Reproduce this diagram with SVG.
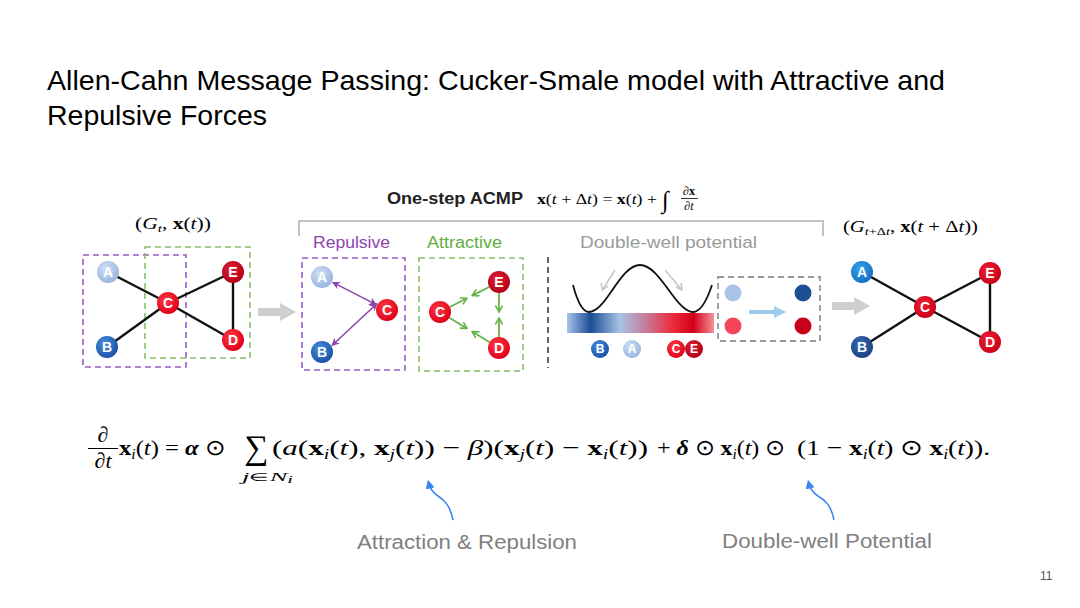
<svg xmlns="http://www.w3.org/2000/svg" width="1080" height="608" viewBox="0 0 1080 608">
<defs>
<style>
.ttl{font-family:"Liberation Sans",Arial,sans-serif;font-size:28px;fill:#000}
.nl{font-family:"Liberation Sans",Arial,sans-serif;font-weight:bold;fill:#fff;text-anchor:middle;dominant-baseline:central}
.m{font-family:"Liberation Serif","Times New Roman",serif;fill:#000}
.b{font-weight:bold}
.i{font-style:italic}
.bi{font-weight:bold;font-style:italic}
.edge{stroke:#111;stroke-width:2.4;fill:none}
.rep{stroke:#8e44ad;stroke-width:1.6;fill:none;marker-start:url(#mp);marker-end:url(#mp)}
.att{stroke:#66b345;stroke-width:1.8;fill:none;marker-end:url(#mg)}
.lbl{font-family:"Liberation Sans",Arial,sans-serif;font-size:20px;fill:#7f7f7f}
.cap{font-family:"Liberation Sans",Arial,sans-serif;font-size:16px}
</style>
<radialGradient id="gA" cx="40%" cy="35%" r="65%"><stop offset="0" stop-color="#d3e1f4"/><stop offset="1" stop-color="#98b5e0"/></radialGradient>
<radialGradient id="gB" cx="40%" cy="35%" r="65%"><stop offset="0" stop-color="#4a8fe0"/><stop offset="1" stop-color="#1b52a6"/></radialGradient>
<radialGradient id="gC" cx="40%" cy="35%" r="65%"><stop offset="0" stop-color="#ff3a44"/><stop offset="1" stop-color="#e0001a"/></radialGradient>
<radialGradient id="gE" cx="40%" cy="35%" r="65%"><stop offset="0" stop-color="#dc2030"/><stop offset="1" stop-color="#b50018"/></radialGradient>
<radialGradient id="gA2" cx="40%" cy="35%" r="65%"><stop offset="0" stop-color="#39a0e8"/><stop offset="1" stop-color="#1372c4"/></radialGradient>
<radialGradient id="gB2" cx="40%" cy="35%" r="65%"><stop offset="0" stop-color="#3768b0"/><stop offset="1" stop-color="#1b4485"/></radialGradient>
<radialGradient id="gR2" cx="40%" cy="35%" r="65%"><stop offset="0" stop-color="#ec2030"/><stop offset="1" stop-color="#cc0018"/></radialGradient>
<linearGradient id="bar" x1="0" y1="0" x2="1" y2="0">
<stop offset="0" stop-color="#a8c4ea"/>
<stop offset="0.16" stop-color="#1b4d94"/>
<stop offset="0.36" stop-color="#a9c3e6"/>
<stop offset="0.54" stop-color="#c77a98"/>
<stop offset="0.72" stop-color="#ec2a3c"/>
<stop offset="0.86" stop-color="#d3001a"/>
<stop offset="1" stop-color="#f59298"/>
</linearGradient>
<marker id="mp" viewBox="0 0 10 10" refX="9" refY="5" markerWidth="8" markerHeight="8" markerUnits="userSpaceOnUse" orient="auto-start-reverse"><path d="M0,0 L10,5 L0,10 L3,5 Z" fill="#8e44ad"/></marker>
<marker id="mg" viewBox="0 0 10 10" refX="9" refY="5" markerWidth="8" markerHeight="8" markerUnits="userSpaceOnUse" orient="auto"><path d="M1,0.5 L9,5 L1,9.5" fill="none" stroke="#66b345" stroke-width="2"/></marker>
<marker id="mblue" viewBox="0 0 10 10" refX="5" refY="5" markerWidth="9" markerHeight="9" markerUnits="userSpaceOnUse" orient="auto"><path d="M0,0 L10,5 L0,10 Z" fill="#3d86f0"/></marker>
</defs>
<rect width="1080" height="608" fill="#fff"/>

<g id="title">
<text class="ttl" x="47" y="90" textLength="898" lengthAdjust="spacingAndGlyphs">Allen-Cahn Message Passing: Cucker-Smale model with Attractive and</text>
<text class="ttl" x="47" y="125" textLength="220" lengthAdjust="spacingAndGlyphs">Repulsive Forces</text>
</g>

<g id="header">
<text class="cap" x="387" y="204" font-weight="bold" fill="#222" textLength="136" lengthAdjust="spacingAndGlyphs">One-step ACMP</text>
<text class="m" x="537" y="204" font-size="14" textLength="120" lengthAdjust="spacingAndGlyphs"><tspan class="b">x</tspan>(<tspan class="i">t</tspan> + Δ<tspan class="i">t</tspan>) = <tspan class="b">x</tspan>(<tspan class="i">t</tspan>) +</text>
<text class="m i" x="662" y="208" font-size="24">∫</text>
<text class="m" x="689" y="195" font-size="12" text-anchor="middle">∂<tspan class="b">x</tspan></text>
<line x1="681" y1="198.5" x2="698" y2="198.5" stroke="#000" stroke-width="0.8"/>
<text class="m" x="689" y="210" font-size="12" text-anchor="middle">∂<tspan class="i">t</tspan></text>
<path d="M299,236 L299,221 L823,221 L823,236" fill="none" stroke="#c4c4c4" stroke-width="2"/>
<text class="m" x="135" y="229" font-size="16" textLength="76" lengthAdjust="spacingAndGlyphs">(<tspan class="i">G</tspan><tspan class="i" font-size="11" dy="3">t</tspan><tspan dy="-3">, </tspan><tspan class="b">x</tspan>(<tspan class="i">t</tspan>))</text>
<text class="m" x="843" y="232" font-size="16" textLength="135" lengthAdjust="spacingAndGlyphs">(<tspan class="i">G</tspan><tspan font-size="11" dy="3"><tspan class="i">t</tspan>+Δ<tspan class="i">t</tspan></tspan><tspan dy="-3">, </tspan><tspan class="b">x</tspan>(<tspan class="i">t</tspan> + Δ<tspan class="i">t</tspan>))</text>
<text class="cap" x="313" y="248" fill="#8e44ad" textLength="77" lengthAdjust="spacingAndGlyphs">Repulsive</text>
<text class="cap" x="427" y="248" fill="#5fae3e" textLength="75" lengthAdjust="spacingAndGlyphs">Attractive</text>
<text class="cap" x="580" y="248" fill="#9a9a9a" font-size="17" textLength="177" lengthAdjust="spacingAndGlyphs">Double-well potential</text>
</g>

<g id="boxes" fill="none" stroke-width="1.6" stroke-dasharray="6,4">
<rect x="83" y="255" width="103" height="112" stroke="#9b59c6"/>
<rect x="145" y="247" width="105" height="111" stroke="#86c06a"/>
<rect x="302" y="258" width="103" height="112" stroke="#9b59c6"/>
<rect x="419" y="258" width="104" height="113" stroke="#86c06a"/>
<line x1="548" y1="257" x2="548" y2="368" stroke="#666" stroke-width="2"/>
<rect x="718" y="277" width="102" height="64" stroke="#999" stroke-width="1.8"/>
</g>

<g id="arrows-big">
<polygon points="258,308 280,308 280,303 296,312 280,321 280,316 258,316" fill="#cfcfcf"/>
<polygon points="832,302 854,302 854,297 870,306 854,315 854,310 832,310" fill="#cfcfcf"/>
<polygon points="749,310 774,310 774,306 786,312 774,318 774,314 749,314" fill="#9ccbee"/>
</g>

<g id="potential">
<rect x="567" y="313" width="147" height="20" fill="url(#bar)"/>
<path d="M573,285 C578,304 583,312 589,312 C606,312 620,265 640,265 C660,265 676,312 693,312 C701,312 707,300 712,285" fill="none" stroke="#111" stroke-width="1.8"/>
<line x1="615" y1="270" x2="603" y2="289" stroke="#c4c4c4" stroke-width="1.5"/>
<path d="M601,283 L602.5,290 L608,286" fill="none" stroke="#c4c4c4" stroke-width="1.5"/>
<line x1="665" y1="270" x2="681" y2="289" stroke="#c4c4c4" stroke-width="1.5"/>
<path d="M676,287 L682,290 L681,283" fill="none" stroke="#c4c4c4" stroke-width="1.5"/>
<circle cx="733" cy="293" r="8.5" fill="#aac4e8"/>
<circle cx="733" cy="326" r="8.5" fill="#f4455a"/>
<circle cx="803" cy="293" r="8.5" fill="#1e4f95"/>
<circle cx="803" cy="326" r="8.5" fill="#c8001a"/>
</g>

<g id="connectors">
<line class="edge" x1="108" y1="272" x2="168" y2="303"/>
<line class="edge" x1="107" y1="347" x2="168" y2="303"/>
<line class="edge" x1="168" y1="303" x2="233" y2="272"/>
<line class="edge" x1="168" y1="303" x2="233" y2="340"/>
<line class="edge" x1="233" y1="272" x2="233" y2="340"/>
<line class="rep" x1="332.7" y1="282.4" x2="376.3" y2="304.6"/>
<line class="rep" x1="332" y1="345.5" x2="377" y2="303.5"/>
<line class="att" x1="449.8" y1="307" x2="467" y2="298.3"/>
<line class="att" x1="489.2" y1="287" x2="472.2" y2="295.6"/>
<line class="att" x1="499" y1="293" x2="499" y2="312"/>
<line class="att" x1="499" y1="337" x2="499" y2="318"/>
<line class="att" x1="449.4" y1="317.7" x2="467" y2="328.4"/>
<line class="att" x1="489.6" y1="342.3" x2="472.1" y2="331.6"/>
<line class="edge" x1="862" y1="272" x2="925" y2="307"/>
<line class="edge" x1="862" y1="347" x2="925" y2="307"/>
<line class="edge" x1="925" y1="307" x2="990" y2="273"/>
<line class="edge" x1="925" y1="307" x2="990" y2="342"/>
<line class="edge" x1="990" y1="273" x2="990" y2="342"/>
<path d="M453,520 C450,505 444,500 438,496 C432,492 430,488 429,484" fill="none" stroke="#3d86f0" stroke-width="1.6" marker-end="url(#mblue)"/>
<path d="M834,520 C831,505 825,500 818,496 C812,492 810,488 809,484" fill="none" stroke="#3d86f0" stroke-width="1.6" marker-end="url(#mblue)"/>
</g>

<g id="g1-A"><circle cx="108" cy="272" r="11" fill="url(#gA)"/><text class="nl" x="108" y="272" font-size="14">A</text></g>
<g id="g1-B"><circle cx="107" cy="347" r="11" fill="url(#gB)"/><text class="nl" x="107" y="347" font-size="14">B</text></g>
<g id="g1-C"><circle cx="168" cy="303" r="11" fill="url(#gC)"/><text class="nl" x="168" y="303" font-size="14">C</text></g>
<g id="g1-E"><circle cx="233" cy="272" r="11" fill="url(#gE)"/><text class="nl" x="233" y="272" font-size="14">E</text></g>
<g id="g1-D"><circle cx="233" cy="340" r="11" fill="url(#gC)"/><text class="nl" x="233" y="340" font-size="14">D</text></g>

<g id="rep-A"><circle cx="322" cy="277" r="11" fill="url(#gA)"/><text class="nl" x="322" y="277" font-size="14">A</text></g>
<g id="rep-C"><circle cx="387" cy="310" r="11" fill="url(#gC)"/><text class="nl" x="387" y="310" font-size="14">C</text></g>
<g id="rep-B"><circle cx="322" cy="352" r="11" fill="url(#gB)"/><text class="nl" x="322" y="352" font-size="14">B</text></g>

<g id="att-C"><circle cx="440" cy="312" r="11" fill="url(#gC)"/><text class="nl" x="440" y="312" font-size="14">C</text></g>
<g id="att-E"><circle cx="499" cy="282" r="11" fill="url(#gE)"/><text class="nl" x="499" y="282" font-size="14">E</text></g>
<g id="att-D"><circle cx="499" cy="348" r="11" fill="url(#gC)"/><text class="nl" x="499" y="348" font-size="14">D</text></g>

<g id="dw-B"><circle cx="600" cy="349" r="9" fill="url(#gB)"/><text class="nl" x="600" y="349" font-size="12">B</text></g>
<g id="dw-A"><circle cx="632" cy="349" r="9" fill="url(#gA)"/><text class="nl" x="632" y="349" font-size="12">A</text></g>
<g id="dw-C"><circle cx="676" cy="349" r="9" fill="url(#gC)"/><text class="nl" x="676" y="349" font-size="12">C</text></g>
<g id="dw-E"><circle cx="694" cy="349" r="9" fill="url(#gE)"/><text class="nl" x="694" y="349" font-size="12">E</text></g>

<g id="g2-A"><circle cx="862" cy="272" r="11" fill="url(#gA2)"/><text class="nl" x="862" y="272" font-size="14">A</text></g>
<g id="g2-B"><circle cx="862" cy="347" r="11" fill="url(#gB2)"/><text class="nl" x="862" y="347" font-size="14">B</text></g>
<g id="g2-C"><circle cx="925" cy="307" r="11" fill="url(#gR2)"/><text class="nl" x="925" y="307" font-size="14">C</text></g>
<g id="g2-E"><circle cx="990" cy="273" r="11" fill="url(#gR2)"/><text class="nl" x="990" y="273" font-size="14">E</text></g>
<g id="g2-D"><circle cx="990" cy="342" r="11" fill="url(#gR2)"/><text class="nl" x="990" y="342" font-size="14">D</text></g>

<g id="equation">
<text class="m" x="103" y="442" font-size="22" text-anchor="middle">∂</text>
<line x1="88" y1="448.5" x2="118" y2="448.5" stroke="#000" stroke-width="1"/>
<text class="m" x="103" y="468" font-size="22" text-anchor="middle">∂<tspan class="i">t</tspan></text>
<text class="m" x="119" y="455" font-size="22" textLength="106" lengthAdjust="spacingAndGlyphs"><tspan class="b">x</tspan><tspan class="i" font-size="14" dy="4">i</tspan><tspan dy="-4">(</tspan><tspan class="i">t</tspan>) = <tspan class="bi">α</tspan> ⊙</text>
<text class="m" x="256" y="459" font-size="34" text-anchor="middle">∑</text>
<text class="m" x="242" y="481" font-size="13" textLength="51" lengthAdjust="spacingAndGlyphs"><tspan class="i">j</tspan><tspan font-size="11">∈</tspan><tspan class="i">N</tspan><tspan class="i" font-size="10" dy="2">i</tspan></text>
<text class="m" x="272" y="455" font-size="22" textLength="376" lengthAdjust="spacingAndGlyphs">(<tspan class="i">a</tspan>(<tspan class="b">x</tspan><tspan class="i" font-size="14" dy="4">i</tspan><tspan dy="-4">(</tspan><tspan class="i">t</tspan>), <tspan class="b">x</tspan><tspan class="i" font-size="14" dy="4">j</tspan><tspan dy="-4">(</tspan><tspan class="i">t</tspan>)) − <tspan class="i">β</tspan>)(<tspan class="b">x</tspan><tspan class="i" font-size="14" dy="4">j</tspan><tspan dy="-4">(</tspan><tspan class="i">t</tspan>) − <tspan class="b">x</tspan><tspan class="i" font-size="14" dy="4">i</tspan><tspan dy="-4">(</tspan><tspan class="i">t</tspan>))</text>
<text class="m" x="657" y="455" font-size="22" textLength="128" lengthAdjust="spacingAndGlyphs">+ <tspan class="bi">δ</tspan> ⊙ <tspan class="b">x</tspan><tspan class="i" font-size="14" dy="4">i</tspan><tspan dy="-4">(</tspan><tspan class="i">t</tspan>) ⊙</text>
<text class="m" x="797" y="455" font-size="22" textLength="193" lengthAdjust="spacingAndGlyphs">(1 − <tspan class="b">x</tspan><tspan class="i" font-size="14" dy="4">i</tspan><tspan dy="-4">(</tspan><tspan class="i">t</tspan>) ⊙ <tspan class="b">x</tspan><tspan class="i" font-size="14" dy="4">i</tspan><tspan dy="-4">(</tspan><tspan class="i">t</tspan>)).</text>
</g>

<g id="labels">
<text class="lbl" x="357" y="549" textLength="220" lengthAdjust="spacingAndGlyphs">Attraction &amp; Repulsion</text>
<text class="lbl" x="722" y="548" textLength="210" lengthAdjust="spacingAndGlyphs">Double-well Potential</text>
<text x="1040" y="580" font-family="'Liberation Sans',Arial,sans-serif" font-size="12" fill="#555">11</text>
</g>
</svg>
